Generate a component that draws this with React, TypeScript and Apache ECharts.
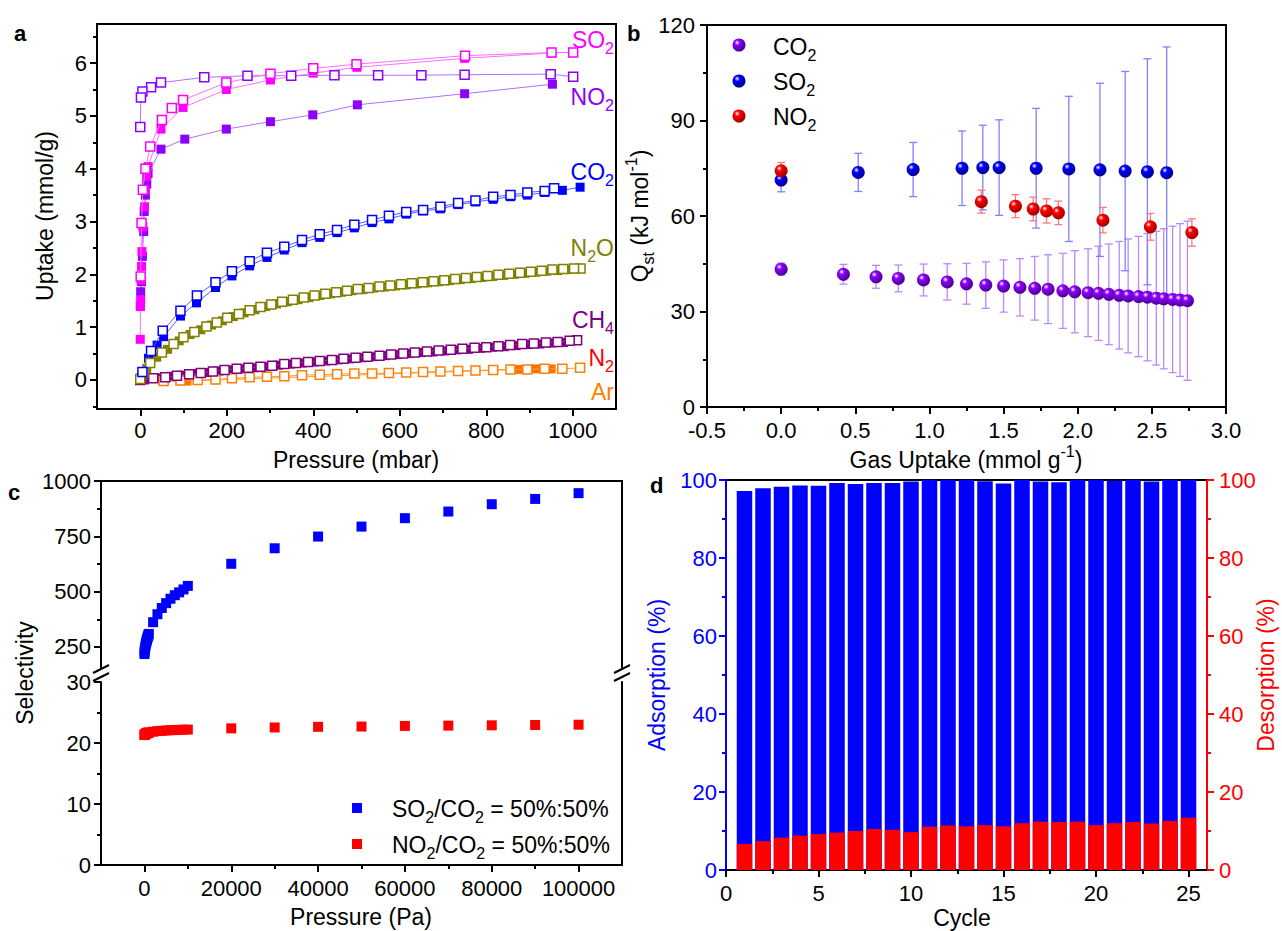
import React, { useEffect, useRef } from 'react';
import * as echarts from 'echarts';

const FONT = '"Liberation Sans", Arial, Helvetica, sans-serif';

// ---------------- Panel a: isotherms [pressure (mbar), uptake (mmol/g)]
const so2Ads = [[0,0.77],[0.5,1.39],[1,1.52],[2,1.89],[3,2.15],[4,2.43],[6,2.9],[10,3.28],[12,3.6],[15,3.85],[18,4.04],[48,4.75],[99,5.16],[199,5.5],[301,5.68],[400,5.81],[501,5.92],[750,6.09],[951,6.19]];
const so2Des = [[1001,6.2],[951,6.2],[751,6.14],[500,5.98],[400,5.9],[301,5.8],[199,5.63],[99,5.3],[73,5.15],[50,4.92],[23,4.42],[12,4.0],[6,3.6],[3,2.97],[1,1.96]];
const no2Ads = [[0,1.4],[1,1.67],[3,1.86],[5,2.34],[8,2.81],[9,3.19],[12,3.5],[15,3.71],[18,3.91],[48,4.37],[103,4.56],[199,4.75],[301,4.89],[399,5.02],[502,5.21],[750,5.42],[953,5.6]];
const no2Des = [[1001,5.74],[949,5.79],[750,5.78],[650,5.77],[550,5.77],[449,5.77],[349,5.76],[248,5.76],[148,5.73],[48,5.63],[25,5.54],[5,5.46],[1.6,5.35],[0,4.79]];
const co2Ads = [[0,0.02],[19,0.41],[39,0.66],[54,0.82],[93,1.21],[130,1.46],[174,1.75],[212,1.97],[253,2.16],[293,2.32],[333,2.46],[374,2.6],[415,2.7],[455,2.79],[495,2.88],[536,2.98],[575,3.05],[615,3.14],[654,3.2],[694,3.24],[735,3.32],[775,3.37],[816,3.42],[856,3.47],[895,3.5],[935,3.55],[976,3.59],[1017,3.65]];
const co2Des = [[957,3.63],[935,3.58],[895,3.55],[856,3.5],[816,3.47],[775,3.4],[735,3.35],[694,3.28],[654,3.22],[615,3.18],[575,3.11],[536,3.03],[495,2.94],[455,2.84],[415,2.76],[374,2.65],[333,2.52],[293,2.41],[253,2.25],[212,2.06],[174,1.85],[131,1.6],[93,1.31],[52,0.93],[25,0.55],[5,0.15]];
const n2oAds = [[2,0.05],[15,0.22],[38,0.43],[63,0.58],[90,0.74],[115,0.86],[140,0.95],[165,1.04],[190,1.12],[215,1.2],[240,1.27],[265,1.33],[290,1.39],[315,1.44],[340,1.48],[365,1.52],[390,1.56],[415,1.6],[440,1.63],[465,1.66],[490,1.69],[515,1.71],[540,1.74],[565,1.76],[590,1.78],[615,1.8],[640,1.82],[665,1.84],[690,1.86],[715,1.88],[740,1.9],[765,1.92],[790,1.94],[815,1.96],[840,1.98],[865,2.0],[890,2.02],[915,2.04],[940,2.06],[965,2.07],[990,2.09]];
const n2oDes = [[1018,2.11],[1003,2.11],[978,2.1],[953,2.09],[928,2.07],[903,2.05],[878,2.03],[853,2.01],[828,1.99],[803,1.97],[778,1.95],[753,1.93],[728,1.91],[703,1.89],[678,1.87],[653,1.85],[628,1.83],[603,1.81],[578,1.79],[553,1.77],[528,1.74],[503,1.72],[478,1.69],[453,1.66],[428,1.63],[403,1.6],[378,1.56],[353,1.52],[328,1.48],[303,1.43],[278,1.38],[253,1.32],[228,1.25],[201,1.18],[177,1.09],[153,1.01],[125,0.91],[100,0.81],[77,0.68],[50,0.52],[23,0.32],[8,0.14],[0,0.02]];
const ch4Ads = [[10,0.0],[44,0.04],[72,0.07],[99,0.09],[127,0.12],[154,0.14],[182,0.17],[209,0.19],[237,0.21],[264,0.23],[292,0.25],[319,0.28],[347,0.3],[374,0.32],[402,0.34],[429,0.36],[457,0.38],[484,0.4],[512,0.42],[539,0.44],[567,0.46],[594,0.48],[622,0.5],[649,0.52],[677,0.53],[704,0.55],[732,0.57],[759,0.58],[787,0.6],[814,0.62],[842,0.63],[869,0.65],[897,0.67],[924,0.68],[952,0.7],[979,0.71]];
const ch4Des = [[1010,0.75],[993,0.74],[965,0.72],[938,0.71],[910,0.69],[883,0.68],[855,0.66],[828,0.64],[800,0.62],[773,0.61],[745,0.59],[718,0.57],[690,0.56],[663,0.54],[635,0.52],[608,0.5],[580,0.48],[553,0.46],[525,0.44],[498,0.42],[470,0.4],[443,0.38],[415,0.36],[388,0.34],[360,0.32],[333,0.3],[305,0.27],[278,0.25],[250,0.23],[223,0.21],[195,0.19],[168,0.16],[140,0.13],[113,0.11],[85,0.08],[58,0.05],[30,0.03],[0,0.0]];
const n2Ads = [[0,0.0],[54,-0.03],[108,-0.02],[875,0.2],[895,0.2],[915,0.21],[935,0.21],[950,0.21]];
const arDes = [[1017,0.23],[976,0.21],[935,0.21],[895,0.2],[856,0.2],[816,0.19],[775,0.18],[735,0.17],[694,0.16],[654,0.15],[615,0.14],[575,0.13],[536,0.12],[495,0.12],[455,0.11],[415,0.1],[374,0.09],[333,0.07],[293,0.06],[253,0.05],[212,0.03],[174,0.01],[133,0.0],[93,-0.01],[54,-0.02]];

// ---------------- Panel b: isosteric heat [uptake (mmol/g), Qst (kJ/mol), error]
const co2G = [0, 0.42, 0.64, 0.79, 0.96, 1.12, 1.25, 1.38, 1.5, 1.61, 1.71, 1.8, 1.9, 1.98, 2.07, 2.14, 2.21, 2.28, 2.34, 2.41, 2.47, 2.53, 2.58, 2.64, 2.69, 2.74];
const co2Q = [43.3, 41.7, 40.9, 40.4, 39.9, 39.3, 38.7, 38.3, 38.0, 37.6, 37.3, 37.0, 36.5, 36.2, 35.9, 35.7, 35.4, 35.1, 34.9, 34.7, 34.5, 34.2, 34.0, 33.8, 33.6, 33.4];
const co2E = [1.9, 3.1, 3.6, 4.2, 5.0, 5.7, 6.4, 7.3, 8.2, 9.0, 10.0, 10.8, 11.8, 12.9, 13.8, 14.8, 15.8, 16.9, 17.9, 18.9, 20.0, 21.0, 22.0, 23.0, 24.0, 25.0];
const so2G = [0, 0.52, 0.89, 1.22, 1.36, 1.47, 1.72, 1.94, 2.15, 2.32, 2.47, 2.6];
const so2Q = [71.3, 73.7, 74.6, 75.0, 75.2, 75.2, 75.0, 74.8, 74.5, 74.1, 73.9, 73.6];
const so2E = [3.7, 6.0, 8.5, 11.7, 13.3, 15.0, 18.8, 22.8, 27.2, 31.3, 35.5, 39.5];
const no2G = [0, 1.35, 1.58, 1.7, 1.79, 1.87, 2.17, 2.49, 2.77];
const no2Q = [74.2, 64.5, 63.1, 62.2, 61.6, 61.0, 58.7, 56.6, 54.8];
const no2E = [2.6, 3.6, 3.6, 3.7, 3.8, 3.7, 4.0, 4.2, 4.3];

// ---------------- Panel c: IAST selectivity vs pressure (Pa)
const selP = [10, 50, 100, 200, 300, 400, 500, 600, 700, 800, 900, 1000, 2000, 3000, 4000, 5000, 6000, 7000, 8000, 9000, 10000, 20000, 30000, 40000, 50000, 60000, 70000, 80000, 90000, 100000];
const selSO2 = [218, 228, 237, 250, 260, 269, 277, 284, 291, 297, 303, 309, 362, 398, 426, 448, 468, 484, 497, 510, 526, 626, 696, 749, 794, 832, 862, 895, 919, 945];
const selNO2 = [21.3, 21.35, 21.4, 21.45, 21.5, 21.55, 21.6, 21.62, 21.65, 21.68, 21.7, 21.72, 21.85, 21.95, 22.0, 22.05, 22.1, 22.12, 22.15, 22.18, 22.2, 22.4, 22.55, 22.65, 22.7, 22.8, 22.85, 22.9, 22.95, 23.0];

// ---------------- Panel d: cycling
const cycles = [1, 2, 3, 4, 5, 6, 7, 8, 9, 10, 11, 12, 13, 14, 15, 16, 17, 18, 19, 20, 21, 22, 23, 24, 25];
const adsorption = [97.2, 97.9, 98.3, 98.6, 98.5, 99.2, 99.0, 99.2, 99.2, 99.6, 100, 100, 100, 99.7, 99.1, 100, 99.6, 99.4, 100, 100, 99.8, 100, 99.6, 100, 100];
const desorption = [6.7, 7.4, 8.3, 8.8, 9.2, 9.6, 10.0, 10.5, 10.3, 9.7, 11.1, 11.4, 11.2, 11.5, 11.2, 12.0, 12.4, 12.3, 12.4, 11.5, 12.0, 12.3, 11.9, 12.6, 13.4];

// tick values
const aXMaj = [0, 200, 400, 600, 800, 1000];
const aXMin = [100, 300, 500, 700, 900];
const aYMaj = [0, 1, 2, 3, 4, 5, 6];
const aYMin = [-0.5, 0.5, 1.5, 2.5, 3.5, 4.5, 5.5, 6.5];
const bXMaj = [-0.5, 0, 0.5, 1, 1.5, 2, 2.5, 3];
const bXMin = [-0.25, 0.25, 0.75, 1.25, 1.75, 2.25, 2.75];
const bYMaj = [0, 30, 60, 90, 120];
const bYMin = [15, 45, 75, 105];
const cXMaj = [0, 20000, 40000, 60000, 80000, 100000];
const cXMin = [10000, 30000, 50000, 70000, 90000];
const cUpMaj = [250, 500, 750, 1000];
const cUpMin = [375, 625, 875];
const cLoMaj = [0, 10, 20, 30];
const cLoMin = [5, 15, 25];
const dXMaj = [0, 5, 10, 15, 20, 25];
const dXMin = [2.5, 7.5, 12.5, 17.5, 22.5];
const dYMaj = [0, 20, 40, 60, 80, 100];
const dYMin = [10, 30, 50, 70, 90];

function mainAxis(gridIndex: number, position: string, min: number, max: number, majors: number[], color = '#000', margin = 10, fmt?: (v: number) => string) {
  return {
    type: 'value', gridIndex, position, min, max,
    axisLine: { show: true, onZero: false, lineStyle: { color, width: 2 } },
    axisTick: { show: true, inside: false, length: 7, customValues: majors, lineStyle: { color, width: 2 } },
    axisLabel: { show: true, customValues: majors, color, fontSize: 22, fontFamily: FONT, margin, formatter: fmt || ((v: number) => String(v)) },
    splitLine: { show: false },
  };
}
function minorAxis(gridIndex: number, position: string, min: number, max: number, minors: number[], color = '#000') {
  return {
    type: 'value', gridIndex, position, min, max,
    axisLine: { show: false, onZero: false },
    axisTick: { show: true, inside: false, length: 4, customValues: minors, lineStyle: { color, width: 2 } },
    axisLabel: { show: false },
    splitLine: { show: false },
  };
}
function lineAxis(gridIndex: number, position: string, min: number, max: number, color = '#000') {
  return {
    type: 'value', gridIndex, position, min, max,
    axisLine: { show: true, onZero: false, lineStyle: { color, width: 2 } },
    axisTick: { show: false }, axisLabel: { show: false }, splitLine: { show: false },
  };
}

function richStyles(fs: number, color: string) {
  const ss = Math.round(fs * 0.68);
  return {
    m: { fontSize: fs, fontFamily: FONT, fill: color, lineHeight: fs + 10, verticalAlign: 'middle' },
    s: { fontSize: ss, fontFamily: FONT, fill: color, lineHeight: ss, verticalAlign: 'bottom' },
    p: { fontSize: ss, fontFamily: FONT, fill: color, lineHeight: ss, verticalAlign: 'top' },
  };
}
function txt(x: number, y: number, text: string, color: string, fs: number, align = 'left', rot = 0, bold = false) {
  return {
    type: 'text', x, y, rotation: rot, silent: true,
    style: { text, fill: color, fontSize: fs, fontFamily: FONT, fontWeight: bold ? 'bold' : 'normal', align, verticalAlign: 'middle', rich: richStyles(fs, color) },
  };
}

function iso(data: number[][], color: string, lineColor: string, open: boolean) {
  return {
    type: 'line', xAxisIndex: 0, yAxisIndex: 0, data, symbol: 'rect', symbolSize: 9, showSymbol: true,
    lineStyle: { color: lineColor, width: 1 },
    itemStyle: open ? { color: '#fff', borderColor: color, borderWidth: 1.5, opacity: 1 } : { color, borderColor: color, borderWidth: 0, opacity: 1 },
    z: open ? 4 : 3, silent: true,
  };
}

function sphere(base: string, dark: string) {
  return new echarts.graphic.RadialGradient(0.36, 0.32, 0.68, [
    { offset: 0, color: '#ffffff' },
    { offset: 0.3, color: base },
    { offset: 1, color: dark },
  ]);
}

function errSeries(g: number[], q: number[], e: number[], color: string) {
  return {
    type: 'custom', xAxisIndex: 2, yAxisIndex: 2, silent: true, z: 2,
    data: g.map((v, i) => [v, q[i], e[i]]),
    encode: { x: 0, y: 1 },
    renderItem: (params: any, api: any) => {
      const x = api.value(0), y = api.value(1), er = api.value(2);
      const t = api.coord([x, y + er]);
      const b = api.coord([x, y - er]);
      const st = { stroke: color, lineWidth: 1.3 };
      const cap = 4;
      return {
        type: 'group', children: [
          { type: 'line', shape: { x1: t[0], y1: t[1], x2: b[0], y2: b[1] }, style: st },
          { type: 'line', shape: { x1: t[0] - cap, y1: t[1], x2: t[0] + cap, y2: t[1] }, style: st },
          { type: 'line', shape: { x1: b[0] - cap, y1: b[1], x2: b[0] + cap, y2: b[1] }, style: st },
        ],
      };
    },
  };
}
function ballSeries(g: number[], q: number[], base: string, dark: string) {
  return {
    type: 'scatter', xAxisIndex: 2, yAxisIndex: 2, silent: true, z: 5,
    data: g.map((v, i) => [v, q[i]]), symbol: 'circle', symbolSize: 13,
    itemStyle: { color: sphere(base, dark), opacity: 1 },
  };
}

function buildOption(): any {
  const grid = [
    { left: 97, top: 24, width: 519, height: 385, show: true, borderColor: '#000', borderWidth: 2, backgroundColor: 'transparent' },
    { left: 707, top: 25, width: 519, height: 382, show: true, borderColor: '#000', borderWidth: 2, backgroundColor: 'transparent' },
    { left: 101, top: 481, width: 521, height: 187, show: false },
    { left: 101, top: 682, width: 521, height: 183, show: false },
    { left: 726, top: 480, width: 481, height: 390, show: true, borderColor: '#000', borderWidth: 2, backgroundColor: 'transparent' },
  ];
  const xAxis = [
    mainAxis(0, 'bottom', -100, 1100, aXMaj),              // 0
    minorAxis(0, 'bottom', -100, 1100, aXMin),             // 1
    mainAxis(1, 'bottom', -0.5, 3, bXMaj, '#000', 12, (v: number) => v.toFixed(1)), // 2
    minorAxis(1, 'bottom', -0.5, 3, bXMin),                // 3
    lineAxis(2, 'top', -10000, 110000),                    // 4
    mainAxis(3, 'bottom', -10000, 110000, cXMaj, '#000', 12), // 5
    minorAxis(3, 'bottom', -10000, 110000, cXMin),         // 6
    mainAxis(4, 'bottom', 0, 26, dXMaj, '#000', 12),       // 7
    minorAxis(4, 'bottom', 0, 26, dXMin),                  // 8
  ];
  const yAxis = [
    mainAxis(0, 'left', -0.55, 6.74, aYMaj),               // 0
    minorAxis(0, 'left', -0.55, 6.74, aYMin),              // 1
    mainAxis(1, 'left', 0, 120, bYMaj, '#000', 12),        // 2
    minorAxis(1, 'left', 0, 120, bYMin),                   // 3
    mainAxis(2, 'left', 155, 1000, cUpMaj),                // 4
    minorAxis(2, 'left', 155, 1000, cUpMin),               // 5
    lineAxis(2, 'right', 155, 1000),                       // 6
    mainAxis(3, 'left', 0, 30, cLoMaj),                    // 7
    minorAxis(3, 'left', 0, 30, cLoMin),                   // 8
    lineAxis(3, 'right', 0, 30),                           // 9
    mainAxis(4, 'left', 0, 100, dYMaj, '#0000FF', 9),      // 10
    minorAxis(4, 'left', 0, 100, dYMin, '#0000FF'),        // 11
    mainAxis(4, 'right', 0, 100, dYMaj, '#FF0000', 12),    // 12
    minorAxis(4, 'right', 0, 100, dYMin, '#FF0000'),       // 13
  ];

  const series: any[] = [
    iso(arDes, '#FF8000', '#FF9A3C', true),
    iso(n2Ads, '#FF7000', '#FF9A3C', false),
    iso(ch4Ads, '#800080', '#A050A0', false),
    iso(ch4Des, '#800080', '#A050A0', true),
    iso(n2oAds, '#808000', '#A0A040', false),
    iso(n2oDes, '#808000', '#A0A040', true),
    iso(co2Ads, '#0000FF', '#5A5AFF', false),
    iso(co2Des, '#0000FF', '#5A5AFF', true),
    iso(no2Ads, '#8B00FF', '#B070FF', false),
    iso(no2Des, '#8B00FF', '#B070FF', true),
    iso(so2Ads, '#FF00FF', '#FF70FF', false),
    iso(so2Des, '#FF00FF', '#FF70FF', true),

    errSeries(co2G, co2Q, co2E, '#BB88FF'),
    errSeries(so2G, so2Q, so2E, '#8080FF'),
    errSeries(no2G, no2Q, no2E, '#FF7A7A'),
    ballSeries(co2G, co2Q, '#8B00FF', '#4B0090'),
    ballSeries(so2G, so2Q, '#0000FF', '#000090'),
    ballSeries(no2G, no2Q, '#FF0000', '#A00000'),

    {
      type: 'scatter', xAxisIndex: 4, yAxisIndex: 4, silent: true, symbol: 'rect', symbolSize: 10,
      data: selP.map((p, i) => [p, selSO2[i]]), itemStyle: { color: '#0000FF', opacity: 1 },
    },
    {
      type: 'scatter', xAxisIndex: 5, yAxisIndex: 7, silent: true, symbol: 'rect', symbolSize: 10,
      data: selP.map((p, i) => [p, selNO2[i]]), itemStyle: { color: '#FF0000', opacity: 1 },
    },

    {
      type: 'bar', xAxisIndex: 7, yAxisIndex: 10, silent: true, barWidth: 15.5, barGap: '-100%',
      data: cycles.map((c, i) => [c, adsorption[i]]), itemStyle: { color: '#0000FF', opacity: 1 }, z: 2,
    },
    {
      type: 'bar', xAxisIndex: 7, yAxisIndex: 10, silent: true, barWidth: 15.5, barGap: '-100%',
      data: cycles.map((c, i) => [c, desorption[i]]), itemStyle: { color: '#FF0000', opacity: 1 }, z: 3,
    },
  ];

  const brk = (x: number, y: number) => [
    { type: 'line', silent: true, shape: { x1: x - 8, y1: y + 5, x2: x + 8, y2: y - 3 }, style: { stroke: '#000', lineWidth: 2 } },
    { type: 'line', silent: true, shape: { x1: x - 8, y1: y + 13, x2: x + 8, y2: y + 5 }, style: { stroke: '#000', lineWidth: 2 } },
  ];
  const R = Math.PI / 2;
  const graphic: any[] = [
    // panel letters
    txt(14, 33, 'a', '#000', 22, 'left', 0, true),
    txt(627, 33, 'b', '#000', 22, 'left', 0, true),
    txt(8, 492, 'c', '#000', 22, 'left', 0, true),
    txt(650, 485, 'd', '#000', 22, 'left', 0, true),
    // panel a
    txt(614, 40, '{m|SO}{s|2}', '#FF00FF', 23, 'right'),
    txt(614, 97, '{m|NO}{s|2}', '#8B00FF', 23, 'right'),
    txt(614, 172, '{m|CO}{s|2}', '#0000FF', 23, 'right'),
    txt(614, 248, '{m|N}{s|2}{m|O}', '#808000', 23, 'right'),
    txt(614, 320, '{m|CH}{s|4}', '#800080', 23, 'right'),
    txt(614, 358, '{m|N}{s|2}', '#FF0000', 23, 'right'),
    txt(614, 392, 'Ar', '#FF8000', 23, 'right'),
    txt(45, 216, 'Uptake (mmol/g)', '#000', 23, 'center', R),
    txt(356, 460, 'Pressure (mbar)', '#000', 23, 'center'),
    // panel b
    txt(640, 216, '{m|Q}{s|st}{m| (kJ mol}{p|-1}{m|)}', '#000', 23, 'center', R),
    txt(966, 460, '{m|Gas Uptake (mmol g}{p|-1}{m|)}', '#000', 23, 'center'),
    { type: 'circle', silent: true, shape: { cx: 739, cy: 45, r: 6.5 }, style: { fill: sphere('#8B00FF', '#4B0090') } },
    { type: 'circle', silent: true, shape: { cx: 739, cy: 81, r: 6.5 }, style: { fill: sphere('#0000FF', '#000090') } },
    { type: 'circle', silent: true, shape: { cx: 739, cy: 116, r: 6.5 }, style: { fill: sphere('#FF0000', '#A00000') } },
    txt(773, 47, '{m|CO}{s|2}', '#000', 23, 'left'),
    txt(773, 82, '{m|SO}{s|2}', '#000', 23, 'left'),
    txt(773, 117, '{m|NO}{s|2}', '#000', 23, 'left'),
    // panel c
    txt(25, 673, 'Selectivity', '#000', 23, 'center', R),
    txt(361, 917, 'Pressure (Pa)', '#000', 23, 'center'),
    { type: 'rect', silent: true, shape: { x: 352, y: 803, width: 10, height: 10 }, style: { fill: '#0000FF' } },
    { type: 'rect', silent: true, shape: { x: 352, y: 839, width: 10, height: 10 }, style: { fill: '#FF0000' } },
    txt(392, 809, '{m|SO}{s|2}{m|/CO}{s|2}{m| = 50%:50%}', '#000', 23, 'left'),
    txt(392, 845, '{m|NO}{s|2}{m|/CO}{s|2}{m| = 50%:50%}', '#000', 23, 'left'),
    ...brk(101, 668),
    ...brk(622, 668),
    // panel d
    txt(657, 675, 'Adsorption (%)', '#0000FF', 23, 'center', R),
    txt(1266, 675, 'Desorption (%)', '#FF0000', 23, 'center', R),
    txt(962, 918, 'Cycle', '#000', 23, 'center'),
  ];

  return {
    animation: false,
    backgroundColor: '#fff',
    textStyle: { fontFamily: FONT },
    grid, xAxis, yAxis, series, graphic,
  };
}

export default function App() {
  const ref = useRef<HTMLDivElement>(null);
  useEffect(() => {
    const chart = echarts.init(ref.current as HTMLDivElement, null, { renderer: 'svg' });
    chart.setOption(buildOption());
    return () => chart.dispose();
  }, []);
  return <div ref={ref} style={{ position: 'absolute', left: 0, top: 0, width: 1282, height: 931, background: '#fff' }} />;
}
